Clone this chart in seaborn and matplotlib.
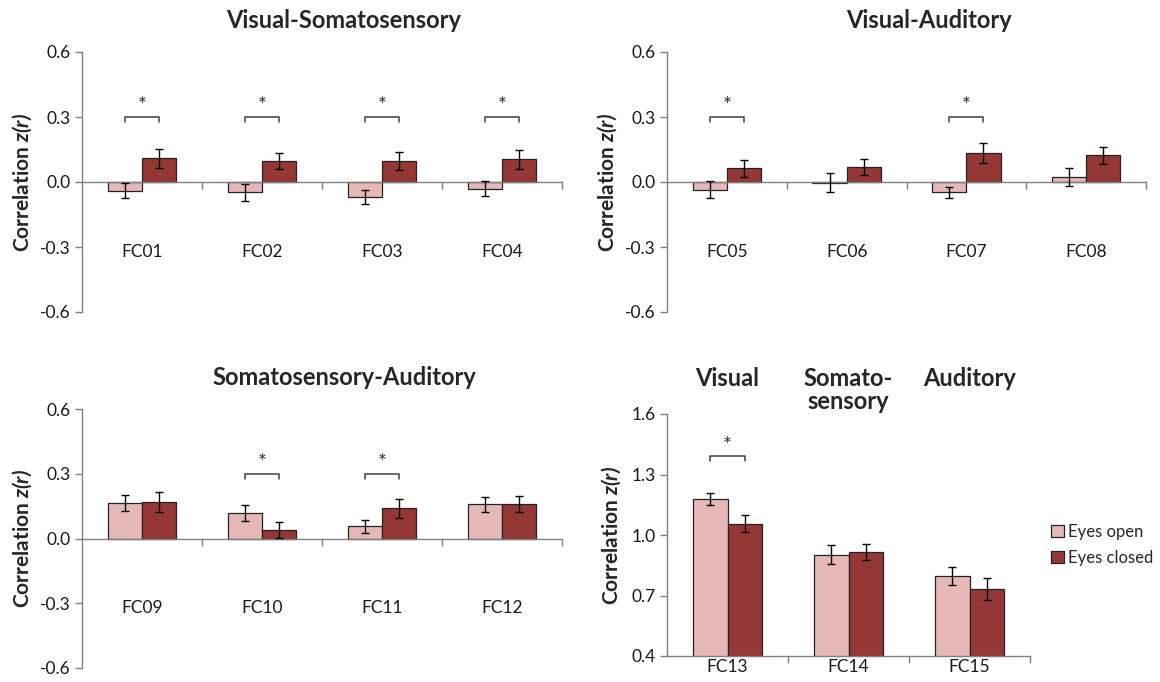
import matplotlib
matplotlib.use("Agg")
import matplotlib.pyplot as plt
from matplotlib.patches import Patch
import seaborn as sns
import pandas as pd

# ---------------- data ----------------
conditions = ["Eyes open", "Eyes closed"]

titles = ["Visual-Somatosensory", "Visual-Auditory", "Somatosensory-Auditory"]

labels_1 = ["FC01", "FC02", "FC03", "FC04"]
open_1 = [-0.040, -0.048, -0.069, -0.031]
closed_1 = [0.109, 0.097, 0.097, 0.105]
open_err_1 = [0.036, 0.038, 0.032, 0.035]
closed_err_1 = [0.043, 0.035, 0.043, 0.044]
sig_1 = [True, True, True, True]

labels_2 = ["FC05", "FC06", "FC07", "FC08"]
open_2 = [-0.035, -0.003, -0.048, 0.022]
closed_2 = [0.063, 0.068, 0.135, 0.123]
open_err_2 = [0.038, 0.045, 0.024, 0.042]
closed_err_2 = [0.038, 0.037, 0.046, 0.039]
sig_2 = [True, False, True, False]

labels_3 = ["FC09", "FC10", "FC11", "FC12"]
open_3 = [0.165, 0.119, 0.057, 0.159]
closed_3 = [0.168, 0.038, 0.139, 0.161]
open_err_3 = [0.037, 0.036, 0.031, 0.035]
closed_err_3 = [0.046, 0.037, 0.043, 0.037]
sig_3 = [False, True, True, False]

labels_4 = ["FC13", "FC14", "FC15"]
region_titles_4 = ["Visual", "Somato-\nsensory", "Auditory"]
open_4 = [1.178, 0.903, 0.796]
closed_4 = [1.057, 0.915, 0.733]
open_err_4 = [0.031, 0.046, 0.045]
closed_err_4 = [0.041, 0.039, 0.054]
sig_4 = [True, False, False]

yticks_small = [-0.6, -0.3, 0.0, 0.3, 0.6]
yticks_big = [0.4, 0.7, 1.0, 1.3, 1.6]

# ---------------- style ----------------
sns.set_theme(style="white")
plt.rcParams["font.family"] = ["Lato", "DejaVu Sans"]
plt.rcParams["mathtext.fontset"] = "custom"
plt.rcParams["mathtext.bfit"] = "Lato:bold:italic"
plt.rcParams["mathtext.it"] = "Lato:italic"
plt.rcParams["mathtext.bf"] = "Lato:bold"

PINK = "#E6B9B8"
RED = "#953735"
AXC = "#808080"
TXT = "#1a1a1a"
palette = {"Eyes open": PINK, "Eyes closed": RED}

fig = plt.figure(figsize=(11.6, 6.82), dpi=100)
W, H = 1160, 682


def add_ax(x0, x1, ytop, ybot):
    return fig.add_axes([x0 / W, 1 - ybot / H, (x1 - x0) / W, (ybot - ytop) / H])


ax1 = add_ax(82, 562, 52, 312)
ax2 = add_ax(667, 1146, 52, 312)
ax3 = add_ax(82, 562, 409, 668)
ax4 = add_ax(667, 1030, 414, 656)

YLABEL = r"Correlation $\mathbfit{z(r)}$"


def make_df(labels, o, c):
    rows = []
    for lab, v in zip(labels, o):
        rows.append((lab, "Eyes open", v))
    for lab, v in zip(labels, c):
        rows.append((lab, "Eyes closed", v))
    return pd.DataFrame(rows, columns=["fc", "cond", "value"])


def draw_bars(ax, labels, o, c, oe, ce):
    df = make_df(labels, o, c)
    sns.barplot(data=df, x="fc", y="value", hue="cond", order=labels,
                hue_order=conditions, palette=palette, width=0.57,
                edgecolor="#222222", linewidth=0.9, errorbar=None,
                legend=False, ax=ax, saturation=1)
    centers = []
    for cont, vals, errs in zip(ax.containers, [o, c], [oe, ce]):
        xs = [p.get_x() + p.get_width() / 2 for p in cont.patches]
        centers.append(xs)
        ax.errorbar(xs, vals, yerr=errs, fmt="none", ecolor="black",
                    elinewidth=1.0, capsize=3, capthick=1.0, zorder=5)
    return centers


def bracket(ax, x0, x1, ytop, drop, star_y):
    ax.plot([x0, x0, x1, x1], [ytop - drop, ytop, ytop, ytop - drop],
            color="#404040", lw=1.1, clip_on=False)
    ax.text((x0 + x1) / 2, star_y, "*", ha="center", va="center",
            fontsize=15, color="#303030")


def style_small(ax, labels, title, centers, sig):
    n = len(labels)
    ax.set_xlim(-0.5, n - 0.5)
    ax.set_ylim(-0.6, 0.6)
    ax.set_yticks(yticks_small)
    ax.set_yticklabels([f"{t:.1f}" for t in yticks_small])
    for s in ["top", "right"]:
        ax.spines[s].set_visible(False)
    ax.spines["bottom"].set_position(("data", 0))
    for s in ["left", "bottom"]:
        ax.spines[s].set_color(AXC)
        ax.spines[s].set_linewidth(1.0)
    ax.set_xticks([i + 0.5 for i in range(n)])
    ax.set_xticklabels([])
    ax.tick_params(axis="x", direction="out", length=5, color=AXC, width=1,
                   bottom=True)
    ax.tick_params(axis="y", direction="out", length=5, color=AXC, width=1,
                   left=True, labelsize=12.5, labelcolor=TXT, pad=3)
    ax.set_xlabel("")
    ax.set_ylabel(YLABEL, fontsize=15, fontweight="bold")
    ax.yaxis.set_label_coords(-0.1, 0.5)
    for i, lab in enumerate(labels):
        ax.text(i, -0.323, lab, ha="center", va="center", fontsize=12.5,
                color=TXT)
    ax.text(0.546, 1.123, title, transform=ax.transAxes, ha="center",
            va="center", fontsize=17, fontweight="bold")
    for i, s in enumerate(sig):
        if s:
            bracket(ax, centers[0][i], centers[1][i], 0.3, 0.023, 0.352)


panels = [
    (ax1, labels_1, open_1, closed_1, open_err_1, closed_err_1, sig_1, titles[0]),
    (ax2, labels_2, open_2, closed_2, open_err_2, closed_err_2, sig_2, titles[1]),
    (ax3, labels_3, open_3, closed_3, open_err_3, closed_err_3, sig_3, titles[2]),
]
for ax, labs, o, c, oe, ce, sig, title in panels:
    cents = draw_bars(ax, labs, o, c, oe, ce)
    style_small(ax, labs, title, cents, sig)

# ---- panel 4 ----
cents4 = draw_bars(ax4, labels_4, open_4, closed_4, open_err_4, closed_err_4)
ax4.set_xlim(-0.5, 2.5)
ax4.set_ylim(0.4, 1.6)
ax4.set_yticks(yticks_big)
ax4.set_yticklabels([f"{t:.1f}" for t in yticks_big])
for s in ["top", "right"]:
    ax4.spines[s].set_visible(False)
for s in ["left", "bottom"]:
    ax4.spines[s].set_color(AXC)
    ax4.spines[s].set_linewidth(1.0)
ax4.set_xticks([0.5, 1.5, 2.5])
ax4.set_xticklabels([])
ax4.set_xticks([0, 1, 2], minor=True)
ax4.set_xticklabels(labels_4, minor=True)
ax4.tick_params(axis="x", which="major", direction="out", length=5,
                color=AXC, width=1, bottom=True)
ax4.tick_params(axis="x", which="minor", length=0, labelsize=12.5, pad=2,
                labelcolor=TXT, bottom=True)
ax4.tick_params(axis="y", direction="out", length=5, color=AXC, width=1,
                left=True, labelsize=12.5, labelcolor=TXT, pad=3)
ax4.set_xlabel("")
ax4.set_ylabel(YLABEL, fontsize=15, fontweight="bold")
ax4.yaxis.set_label_coords(-0.121, 0.5)
for i, rt in enumerate(region_titles_4):
    ax4.text(i, 1.72 if "\n" in rt else 1.774, rt, ha="center", va="center",
             fontsize=17, fontweight="bold", linespacing=1.0, clip_on=False)
for i, s in enumerate(sig_4):
    if s:
        bracket(ax4, cents4[0][i], cents4[1][i], 1.39, 0.023, 1.44)

handles = [Patch(facecolor=PINK, edgecolor="#222222", linewidth=0.9),
           Patch(facecolor=RED, edgecolor="#222222", linewidth=0.9)]
fig.legend(handles, conditions, loc="center left",
           bbox_to_anchor=(1051 / W, 1 - 545 / H), frameon=False,
           borderaxespad=0, borderpad=0,
           fontsize=12, handlelength=0.75, handleheight=0.75,
           handletextpad=0.3, labelspacing=0.6)

fig.savefig("out.png", dpi=100)
